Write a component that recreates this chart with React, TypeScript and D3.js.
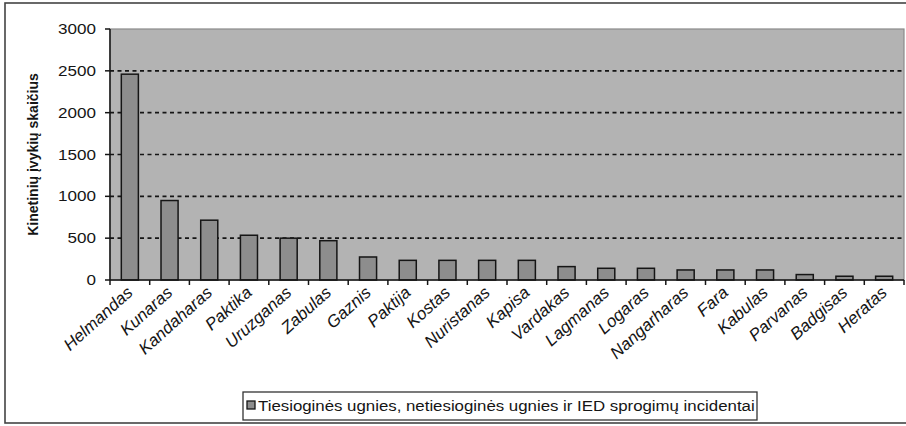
import React from "react";
import * as d3 from "d3";

const categories = [
  "Helmandas", "Kunaras", "Kandaharas", "Paktika", "Uruzganas", "Zabulas",
  "Gaznis", "Paktija", "Kostas", "Nuristanas", "Kapisa", "Vardakas",
  "Lagmanas", "Logaras", "Nangarharas", "Fara", "Kabulas", "Parvanas",
  "Badgisas", "Heratas",
];
const values = [
  2460, 950, 715, 535, 500, 470, 275, 235, 235, 235, 235, 160,
  140, 140, 120, 120, 120, 65, 45, 45,
];
const yTicks = [0, 500, 1000, 1500, 2000, 2500, 3000];
const gridTicks = [500, 1000, 1500, 2000, 2500];
const yTitle = "Kinetinių įvykių skaičius";
const legendLabel = "Tiesioginės ugnies, netiesioginės ugnies ir IED sprogimų incidentai";

const W = 906;
const H = 426;
const plot = { left: 110, right: 904, top: 29, bottom: 280 };
const SX = 1.22;
const FONT = "Arial, 'Liberation Sans', sans-serif";
const BG = "#b3b3b3";
const BAR = "#8d8d8d";
const INK = "#151515";

export default function App() {
  const x = d3.scaleBand<string>().domain(categories).range([plot.left, plot.right]).padding(0);
  const y = d3.scaleLinear().domain([0, 3000]).range([plot.bottom, plot.top]);
  const bw = x.bandwidth() * 0.43;

  return (
    <svg
      width={W}
      height={H}
      style={{ position: "absolute", left: 0, top: 0, background: "#fff" }}
      fontFamily={FONT}
    >
      <rect x={5} y={3} width={905} height={420} fill="#fff" stroke="#444" strokeWidth={1.6} />
      <rect
        x={plot.left}
        y={plot.top}
        width={plot.right - plot.left}
        height={plot.bottom - plot.top}
        fill={BG}
        stroke="#8a8a8a"
        strokeWidth={1.2}
      />
      {gridTicks.map((t) => (
        <line
          key={t}
          x1={plot.left}
          x2={plot.right}
          y1={y(t)}
          y2={y(t)}
          stroke={INK}
          strokeWidth={1.6}
          strokeDasharray="4,3.5"
        />
      ))}
      {categories.map((c, i) => {
        const cx = (x(c) as number) + x.bandwidth() / 2;
        return (
          <rect
            key={c}
            x={cx - bw / 2}
            y={y(values[i])}
            width={bw}
            height={y(0) - y(values[i])}
            fill={BAR}
            stroke={INK}
            strokeWidth={1.5}
          />
        );
      })}
      <line x1={plot.left} x2={plot.left} y1={plot.top} y2={plot.bottom} stroke={INK} strokeWidth={1.5} />
      <line x1={plot.left} x2={plot.right} y1={plot.bottom} y2={plot.bottom} stroke={INK} strokeWidth={1.5} />
      {yTicks.map((t) => (
        <g key={t}>
          <line x1={plot.left - 5} x2={plot.left} y1={y(t)} y2={y(t)} stroke={INK} strokeWidth={1.5} />
          <text
            transform={`matrix(${SX},0,0,1,${plot.left - 14},${y(t) + 5})`}
            textAnchor="end"
            fontSize={14}
            fill={INK}
          >
            {t}
          </text>
        </g>
      ))}
      {categories.map((c) => (
        <line
          key={"t" + c}
          x1={x(c) as number}
          x2={x(c) as number}
          y1={plot.bottom}
          y2={plot.bottom + 5}
          stroke={INK}
          strokeWidth={1.5}
        />
      ))}
      <line x1={plot.right} x2={plot.right} y1={plot.bottom} y2={plot.bottom + 5} stroke={INK} strokeWidth={1.5} />
      {categories.map((c) => {
        const cx = (x(c) as number) + x.bandwidth() / 2;
        return (
          <text
            key={"l" + c}
            transform={`translate(${cx + 4},${plot.bottom + 14}) rotate(-42)`}
            textAnchor="end"
            fontSize={17}
            fontStyle="italic"
            fill={INK}
          >
            {c}
          </text>
        );
      })}
      <text
        transform={`translate(38,${(plot.top + plot.bottom) / 2}) rotate(-90)`}
        textAnchor="middle"
        fontSize={14}
        fontWeight="bold"
        fill={INK}
      >
        {yTitle}
      </text>
      <rect x={243} y={392} width={514} height={28} fill="#fff" stroke="#333" strokeWidth={1.3} />
      <rect x={247} y={401} width={8} height={8} fill={BAR} stroke={INK} strokeWidth={1.3} />
      <text transform={`matrix(${SX},0,0,1,258,411)`} fontSize={13.8} fill={INK}>
        {legendLabel}
      </text>
    </svg>
  );
}
